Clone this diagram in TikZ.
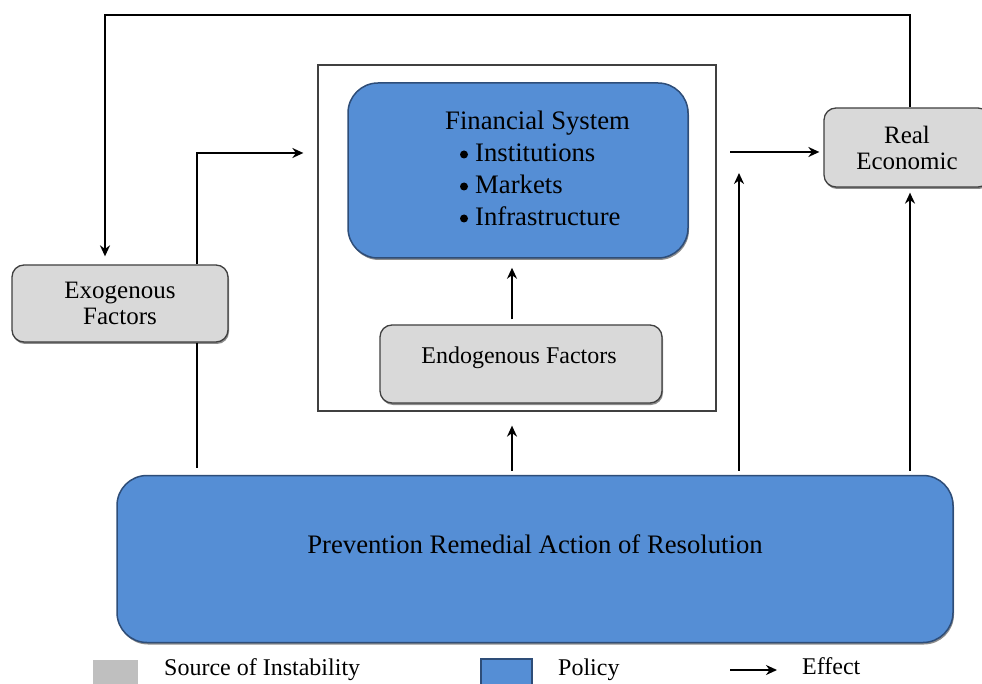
\documentclass[tikz,border=0pt]{standalone}
\usepackage{fontspec}
\setmainfont{Liberation Serif}
\usetikzlibrary{arrows.meta,shadows}
\definecolor{polblue}{HTML}{558ED5}
\definecolor{polline}{HTML}{2E4D78}
\definecolor{srcgray}{HTML}{D9D9D9}
\definecolor{leggray}{HTML}{BFBFBF}
\definecolor{boxline}{HTML}{404040}
\tikzset{
  txt/.style={font=\fontsize{25}{26}\selectfont, text=black, align=center, inner sep=0pt},
  bigtxt/.style={txt, font=\fontsize{26.7}{32}\selectfont},
  bulletdot/.style={circle, fill=black, minimum size=8pt, inner sep=0pt},
  srcbox/.style={draw=boxline, line width=1.3pt, fill=srcgray, rounded corners=12pt,
     drop shadow={shadow xshift=1pt, shadow yshift=-2pt, opacity=0.45, fill=black}},
  polbox/.style={draw=polline, line width=1.5pt, fill=polblue, rounded corners=30pt,
     drop shadow={shadow xshift=1pt, shadow yshift=-2pt, opacity=0.45, fill=black}},
  frame/.style={draw=boxline, line width=1.3pt, fill=white},
  conn/.style={line width=2.5pt, black},
  arr/.style={conn, -{Stealth[length=11pt,width=10pt]}}
}
\begin{document}
\begin{tikzpicture}[x=1pt,y=-1pt]
\clip (0,0) rectangle (982,684);
\fill[white] (0,0) rectangle (982,684);

% outer frame
\node[frame, minimum width=398pt, minimum height=346pt, inner sep=0pt] (outer) at (517,238) {};

% financial system
\node[polbox, minimum width=340pt, minimum height=175pt, inner sep=0pt] (fin) at (518,170.5) {};
\node[bigtxt, align=left, anchor=north west] (fintext) at (445,111) {Financial System\\
\hspace*{30pt}Institutions\\
\hspace*{30pt}Markets\\
\hspace*{30pt}Infrastructure};
\node[bulletdot] (bul1) at (464,154.5) {};
\node[bulletdot] (bul2) at (464,186.5) {};
\node[bulletdot] (bul3) at (464,218.5) {};

% endogenous
\node[srcbox, minimum width=282pt, minimum height=78pt, inner sep=0pt] (endo) at (521,364) {};
\node[txt, font=\fontsize{24}{26}\selectfont] (endot) at (519,358) {Endogenous Factors};

% exogenous
\node[srcbox, txt, minimum width=216pt, minimum height=77pt] (exo) at (120,303.5) {Exogenous\\Factors};

% real economic
\node[srcbox, txt, minimum width=166pt, minimum height=79pt] (real) at (907,147.5) {Real\\Economic};

% prevention
\node[polbox, minimum width=836pt, minimum height=167pt, inner sep=0pt] (prev) at (535,559) {};
\node[bigtxt] (prevt) at (535,544) {Prevention Remedial Action of Resolution};

% coordinates
\coordinate (tr) at (910,15);
\coordinate (tl) at (105,15);
\coordinate (e1) at (197,153);
\coordinate (r0) at (730,152);
\coordinate (ax) at (512,0);
\coordinate (c739) at (739,173);

% connectors
\draw[arr, shorten >=8pt] (tr |- real.north) -- (tr) -- (tl) -- (tl |- exo.north);
\draw[arr, shorten >=14pt] (e1 |- exo.north) -- (e1) -- (e1 -| outer.west);
\draw[conn, shorten >=7pt] (e1 |- exo.south) -- (e1 |- prev.north);
\draw[arr, shorten >=4pt] (r0) -- (r0 -| real.west);
\draw[arr, shorten <=5pt, shorten >=9pt] (ax |- endo.north) -- (ax |- fin.south);
\draw[arr, shorten <=4pt, shorten >=14pt] (ax |- prev.north) -- (ax |- outer.south);
\draw[arr, shorten <=4pt] (c739 |- prev.north) -- (c739);
\draw[arr, shorten <=4pt, shorten >=5pt] (tr |- prev.north) -- (tr |- real.south);

% legend
\node[fill=leggray, minimum width=45pt, minimum height=30pt, inner sep=0pt] (lgray) at (115.5,675) {};
\node[txt, anchor=west, font=\fontsize{24}{26}\selectfont] (lsrc) at (164,670) {Source of Instability};
\node[fill=polblue, draw=polline, line width=1.2pt, minimum width=51pt, minimum height=30pt, inner sep=0pt] (lblue) at (506.5,674) {};
\node[txt, anchor=west, font=\fontsize{24}{26}\selectfont] (lpol) at (558,670) {Policy};
\coordinate (la) at (730,670);
\coordinate (lb) at (777,670);
\draw[arr] (la) -- (lb);
\node[txt, anchor=west, font=\fontsize{24}{26}\selectfont] (leff) at (802,666) {Effect};
\end{tikzpicture}
\end{document}
